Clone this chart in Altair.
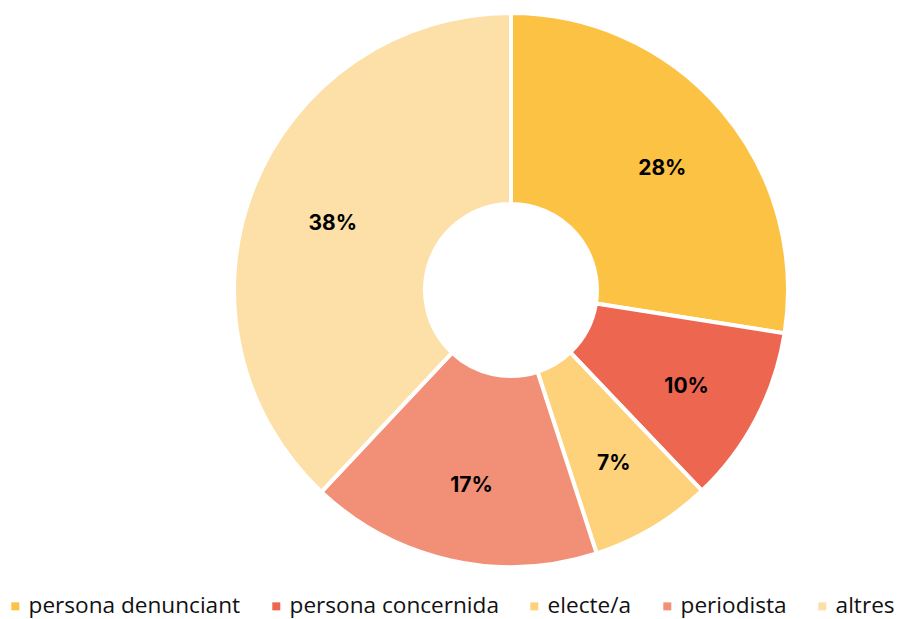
import altair as alt
import pandas as pd

categories = ["persona denunciant", "persona concernida", "electe/a", "periodista", "altres"]
values = [27.5, 10.4, 7.1, 17.0, 38.0]
labels = ["28%", "10%", "7%", "17%", "38%"]
colors = ["#FBC244", "#ED6650", "#FDD27B", "#F29077", "#FDE0A8"]

df = pd.DataFrame({"cat": categories, "val": values, "lab": labels, "ord": list(range(len(categories)))})

cx, cy = 503, 282

base = alt.Chart(df).encode(
    theta=alt.Theta("val:Q", stack=True),
    order=alt.Order("ord:Q"),
)

arcs = base.mark_arc(innerRadius=86, outerRadius=277, stroke="white", strokeWidth=4).encode(
    x=alt.value(cx), y=alt.value(cy),
    color=alt.Color("cat:N", scale=alt.Scale(domain=categories, range=colors), sort=categories,
                    legend=alt.Legend(title=None, orient="none", direction="horizontal",
                                      legendX=-4, legendY=587, symbolType="square", symbolSize=64,
                                      symbolStrokeWidth=0,
                                      labelFont="Open Sans", labelFontSize=22.6, labelColor="#111",
                                      columnPadding=24, labelOffset=2, labelLimit=400)),
)

text = base.mark_text(radius=195, dx=3, dy=6, font="Inter", fontWeight="bold", fontSize=21, color="black").encode(
    x=alt.value(cx), y=alt.value(cy),
    text="lab:N",
)

chart = (arcs + text).properties(width=887, height=611, autosize=alt.AutoSizeParams(type="none"), padding=0).configure_view(stroke=None)

chart.save("out.html", embed_options={"renderer": "svg", "actions": False})
